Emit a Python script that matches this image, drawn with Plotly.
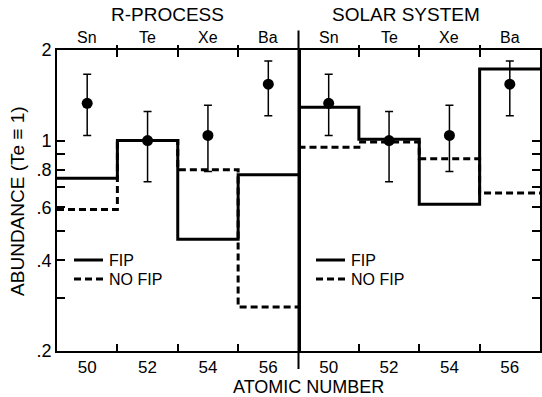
import plotly.graph_objects as go

# ---------------- data ----------------
elements = ["Sn", "Te", "Xe", "Ba"]
atomic_z = [50, 52, 54, 56]
bin_edges = [49, 51, 53, 55, 57]

obs = [1.33, 1.00, 1.04, 1.54]
obs_hi = [1.66, 1.25, 1.31, 1.84]
obs_lo = [1.04, 0.73, 0.79, 1.21]

rproc_fip = [0.75, 1.00, 0.47, 0.77]
rproc_nofip = [0.59, 1.00, 0.80, 0.28]
solar_fip = [1.29, 1.01, 0.615, 1.73]
solar_nofip = [0.95, 0.99, 0.87, 0.67]

panel_titles = ["R-PROCESS", "SOLAR SYSTEM"]
legend_labels = ["FIP", "NO FIP"]
x_tick_vals = [50, 52, 54, 56]
x_minor_vals = [51, 53, 55]
y_tick_vals = [0.2, 0.4, 0.6, 0.8, 1, 2]
y_tick_text = [".2", ".4", ".6", ".8", "1", "2"]
y_minor_vals = [0.3, 0.5, 0.7, 0.9]

FONT = "Liberation Sans, Arial, sans-serif"
DASH = "7px,4px"

fig = go.Figure()

panels = [
    (rproc_fip, rproc_nofip, "x", "y", "x3"),
    (solar_fip, solar_nofip, "x2", "y2", "x4"),
]
for fip, nofip, xa, ya, xtop in panels:
    fig.add_trace(go.Scatter(
        x=bin_edges, y=fip + [fip[-1]], mode="lines", line_shape="hv",
        line=dict(color="black", width=3), name=legend_labels[0],
        xaxis=xa, yaxis=ya, showlegend=False))
    fig.add_trace(go.Scatter(
        x=bin_edges, y=nofip + [nofip[-1]], mode="lines", line_shape="hv",
        line=dict(color="black", width=3, dash=DASH), name=legend_labels[1],
        xaxis=xa, yaxis=ya, showlegend=False))
    fig.add_trace(go.Scatter(
        x=atomic_z, y=obs, mode="markers",
        marker=dict(color="black", size=11),
        error_y=dict(type="data", symmetric=False,
                     array=[h - v for h, v in zip(obs_hi, obs)],
                     arrayminus=[v - l for v, l in zip(obs, obs_lo)],
                     color="black", thickness=1.5, width=4),
        showlegend=False, xaxis=xa, yaxis=ya))
    # invisible companion so the top (element) axis is drawn
    fig.add_trace(go.Scatter(
        x=atomic_z, y=obs, mode="markers", opacity=0, hoverinfo="skip",
        showlegend=False, xaxis=xtop, yaxis=ya))

xcommon = dict(
    range=[49, 57], tickmode="array", tickvals=x_tick_vals, ticks="",
    showline=True, linecolor="black", linewidth=2, mirror="allticks",
    showgrid=False, zeroline=False,
    tickfont=dict(family=FONT, size=17, color="black"),
    minor=dict(tickmode="array", tickvals=x_minor_vals, ticks="inside",
               ticklen=7, tickwidth=1.5, tickcolor="black", showgrid=False),
)
xtopcommon = dict(
    range=[49, 57], side="top", tickmode="array", tickvals=x_tick_vals,
    ticks="", showticklabels=False, showline=False, showgrid=False,
    zeroline=False,
    minor=dict(tickmode="array", tickvals=x_minor_vals, ticks="outside",
               ticklen=4, tickwidth=1.5, tickcolor="black", showgrid=False),
)
ycommon = dict(
    type="log", range=[-0.69897, 0.30103], tickmode="array",
    tickvals=y_tick_vals, ticktext=y_tick_text, ticks="inside",
    ticklen=8, tickwidth=1.5, tickcolor="black",
    showline=True, linecolor="black", linewidth=2,
    showgrid=False, zeroline=False,
    tickfont=dict(family=FONT, size=18, color="black"),
    minor=dict(tickmode="array", tickvals=y_minor_vals, ticks="inside",
               ticklen=8, tickwidth=1.5, tickcolor="black", showgrid=False),
)

fig.update_layout(
    width=542, height=397,
    margin=dict(l=57, r=2, t=50, b=46),
    paper_bgcolor="white", plot_bgcolor="white",
    font=dict(family=FONT, color="black"),
    xaxis=dict(domain=[0, 0.5], anchor="y", **xcommon),
    xaxis2=dict(domain=[0.5, 1], anchor="y2", **xcommon),
    xaxis3=dict(overlaying="x", anchor="y", **xtopcommon),
    xaxis4=dict(overlaying="x2", anchor="y2", **xtopcommon),
    yaxis=dict(anchor="x", mirror=True, **ycommon),
    yaxis2=dict(anchor="x2", matches="y", side="right", showticklabels=False,
                **ycommon),
    showlegend=False,
)

# divider extending beyond the frame
fig.add_shape(type="line", xref="paper", yref="paper", x0=0.5, x1=0.5,
              y0=-0.06, y1=1.065, line=dict(color="black", width=2))

# element labels on top
for axref in ["x", "x2"]:
    for z, el in zip(atomic_z, elements):
        fig.add_annotation(x=z, xref=axref, y=1.0, yref="paper",
                           xanchor="center", yanchor="bottom", yshift=2,
                           text=el, showarrow=False,
                           font=dict(family=FONT, size=16, color="black"))

# panel titles
for xpos, t in zip([0.228, 0.722], panel_titles):
    fig.add_annotation(x=xpos, xref="paper", y=1.117, yref="paper",
                       xanchor="center", yanchor="middle",
                       text=t, showarrow=False,
                       font=dict(family=FONT, size=19, color="black"))

fig.add_annotation(x=0.52, xref="paper", y=-0.118, yref="paper",
                   xanchor="center", yanchor="middle",
                   text="ATOMIC NUMBER", showarrow=False,
                   font=dict(family=FONT, size=18, color="black"))
fig.add_annotation(x=-0.082, xref="paper", y=0.5, yref="paper",
                   xanchor="center", yanchor="middle",
                   text="ABUNDANCE (Te ≡ 1)", textangle=-90, showarrow=False,
                   font=dict(family=FONT, size=19, color="black"))

# hand-drawn legends (as in the original figure)
W, H = 483.0, 301.0
def px(xp):
    return (xp - 57) / W
def py(yp):
    return (351 - yp) / H

for x0 in [74, 316]:
    for lbl, yp, dash in zip(legend_labels, [260, 279], [None, DASH]):
        fig.add_shape(type="line", xref="paper", yref="paper",
                      x0=px(x0), x1=px(x0 + 29), y0=py(yp), y1=py(yp),
                      line=dict(color="black", width=3, dash=dash or "solid"))
        fig.add_annotation(x=px(x0 + 33), xref="paper", y=py(yp), yref="paper",
                           xanchor="left", yanchor="middle", text=lbl,
                           showarrow=False,
                           font=dict(family=FONT, size=16, color="black"))

fig.write_html("out.html")
